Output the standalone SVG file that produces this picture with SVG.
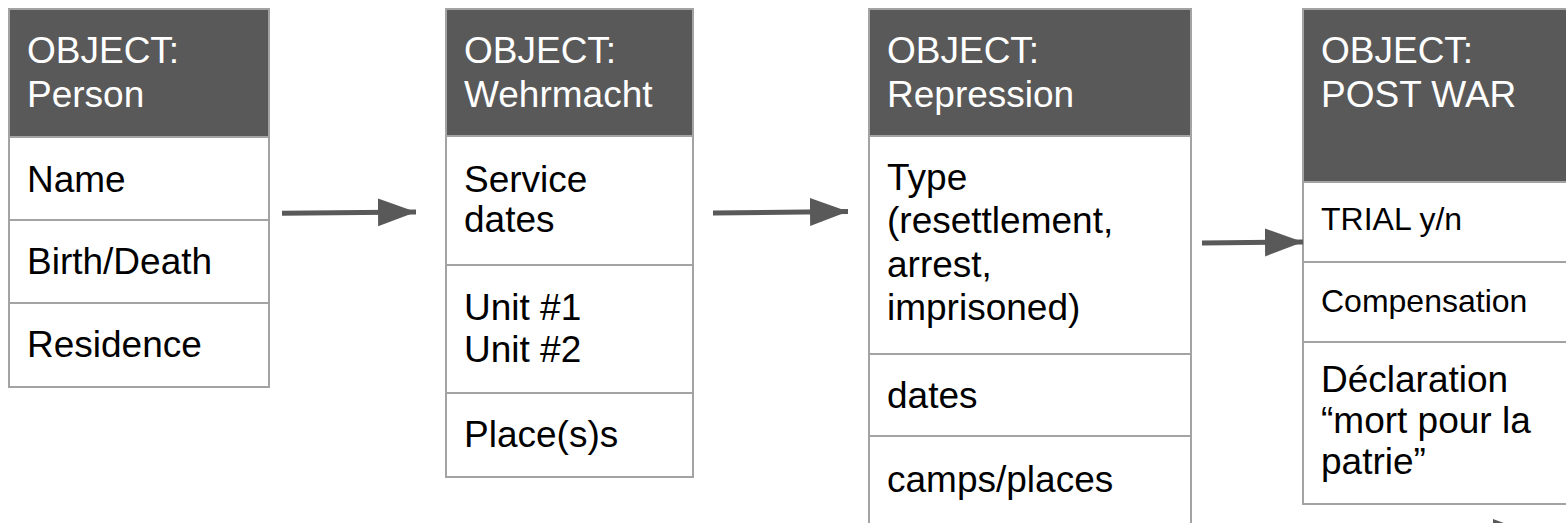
<svg xmlns="http://www.w3.org/2000/svg" width="1566" height="523" viewBox="0 0 1566 523">
<defs>
<style>
.hd{fill:#595959;stroke:#a3a3a3;stroke-width:2}
.rw{fill:#ffffff;stroke:#a3a3a3;stroke-width:2}
.ht{font-family:"Liberation Sans",Arial,sans-serif;font-size:37px;fill:#ffffff}
.bt{font-family:"Liberation Sans",Arial,sans-serif;font-size:37px;fill:#000000}
.st{font-family:"Liberation Sans",Arial,sans-serif;font-size:32px;fill:#000000}
.cn{stroke:#595959;stroke-width:5;fill:none;marker-end:url(#ah)}
</style>
<marker id="ah" markerUnits="userSpaceOnUse" markerWidth="40" markerHeight="30" refX="38" refY="14" orient="auto">
<path d="M0,0 L38,14 L0,28 Z" fill="#595959"/>
</marker>
</defs>
<rect width="1566" height="523" fill="#ffffff"/>
<g id="node-person">
<rect class="hd" x="9" y="9" width="260" height="128"/>
<rect class="rw" x="9" y="137" width="260" height="83"/>
<rect class="rw" x="9" y="220" width="260" height="83"/>
<rect class="rw" x="9" y="303" width="260" height="84"/>
<text class="ht" x="27" y="63">OBJECT:</text>
<text class="ht" x="27" y="107">Person</text>
<text class="bt" x="27" y="192">Name</text>
<text class="bt" x="27" y="274">Birth/Death</text>
<text class="bt" x="27" y="357">Residence</text>
</g>
<g id="node-wehrmacht">
<rect class="hd" x="446" y="9" width="247" height="127"/>
<rect class="rw" x="446" y="136" width="247" height="129"/>
<rect class="rw" x="446" y="265" width="247" height="128"/>
<rect class="rw" x="446" y="393" width="247" height="84"/>
<text class="ht" x="464" y="63">OBJECT:</text>
<text class="ht" x="464" y="107">Wehrmacht</text>
<text class="bt" x="464" y="192">Service</text>
<text class="bt" x="464" y="232">dates</text>
<text class="bt" x="464" y="320">Unit #1</text>
<text class="bt" x="464" y="362">Unit #2</text>
<text class="bt" x="464" y="447">Place(s)s</text>
</g>
<g id="node-repression">
<rect class="hd" x="869" y="9" width="322" height="127"/>
<rect class="rw" x="869" y="136" width="322" height="218"/>
<rect class="rw" x="869" y="354" width="322" height="82"/>
<rect class="rw" x="869" y="436" width="322" height="120"/>
<text class="ht" x="887" y="63">OBJECT:</text>
<text class="ht" x="887" y="107">Repression</text>
<text class="bt" x="887" y="190">Type</text>
<text class="bt" x="887" y="233">(resettlement,</text>
<text class="bt" x="887" y="277">arrest,</text>
<text class="bt" x="887" y="320">imprisoned)</text>
<text class="bt" x="887" y="408">dates</text>
<text class="bt" x="887" y="492">camps/places</text>
</g>
<g id="node-postwar">
<rect class="hd" x="1303" y="9" width="300" height="173"/>
<rect class="rw" x="1303" y="182" width="300" height="80"/>
<rect class="rw" x="1303" y="262" width="300" height="80"/>
<rect class="rw" x="1303" y="342" width="300" height="162"/>
<text class="ht" x="1321" y="63">OBJECT:</text>
<text class="ht" x="1321" y="107">POST WAR</text>
<text class="st" x="1321" y="230">TRIAL y/n</text>
<text class="st" x="1321" y="312">Compensation</text>
<text class="bt" x="1321" y="392">Déclaration</text>
<text class="bt" x="1321" y="433">“mort pour la</text>
<text class="bt" x="1321" y="474">patrie”</text>
</g>
<g id="connectors">
<line class="cn" x1="282" y1="213.3" x2="416" y2="212"/>
<line class="cn" x1="713" y1="213" x2="848" y2="211.5"/>
<line class="cn" x1="1202" y1="243" x2="1303" y2="242"/>
<line class="cn" x1="1390" y1="533" x2="1531" y2="533"/>
</g>
</svg>
